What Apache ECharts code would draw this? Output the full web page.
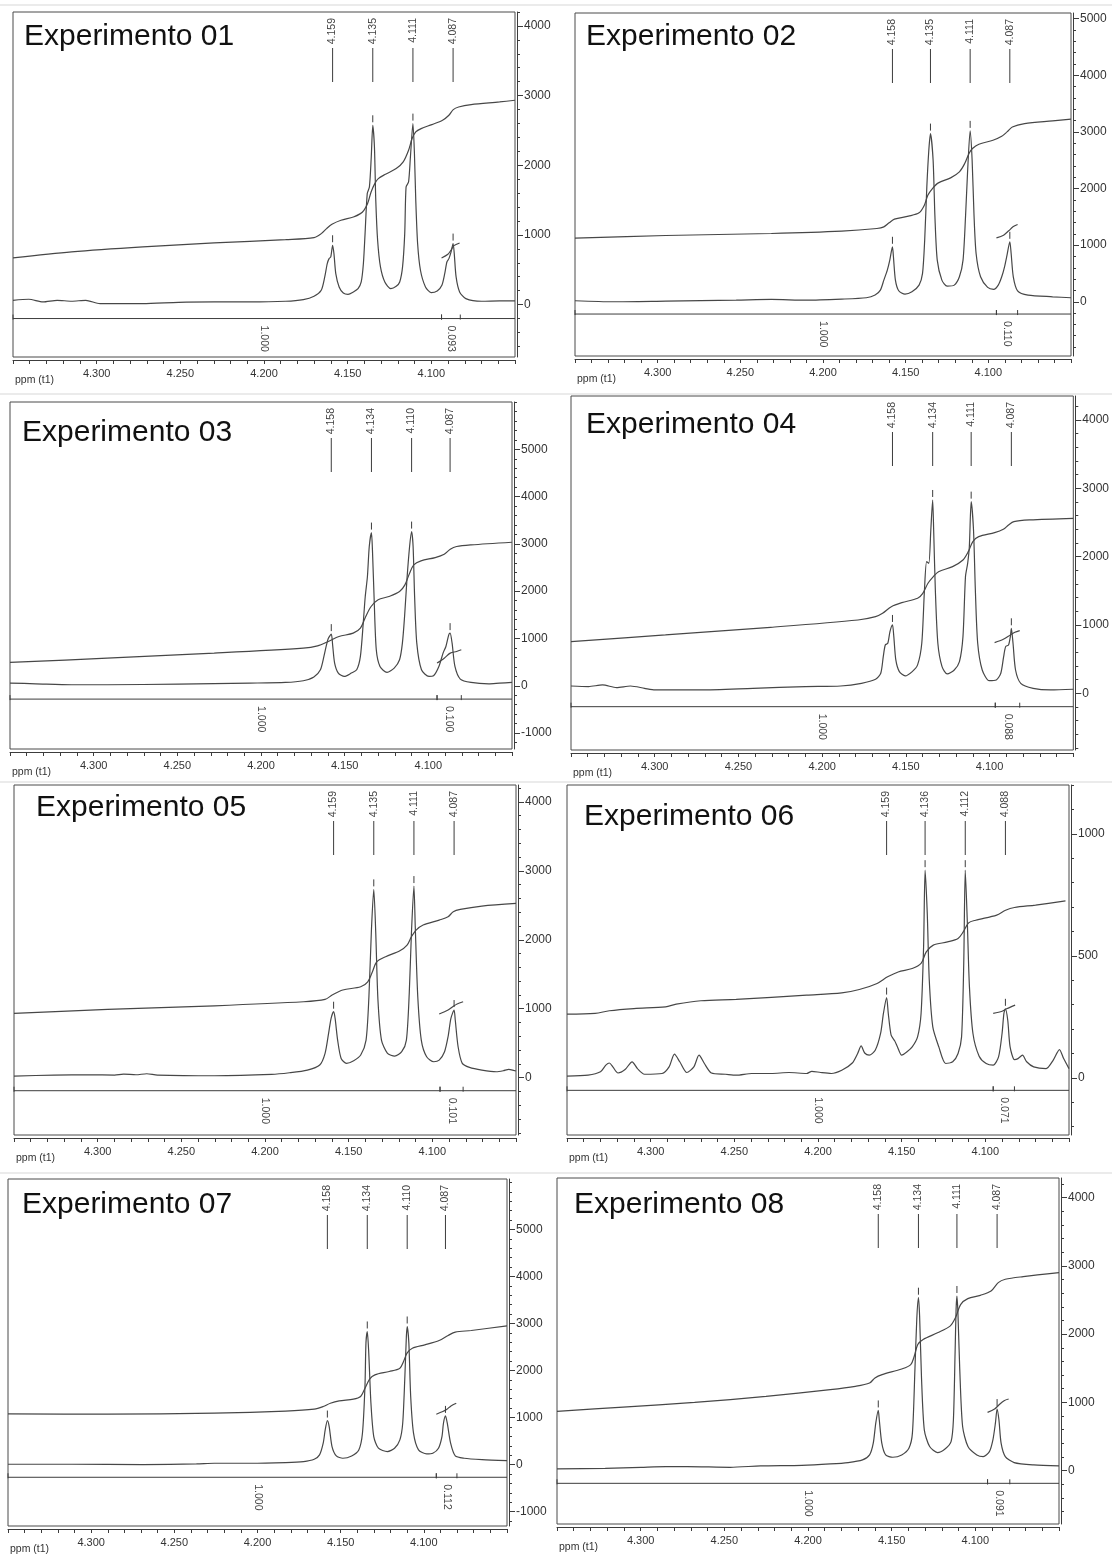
<!DOCTYPE html>
<html>
<head>
<meta charset="utf-8">
<title>Experimentos 01–08</title>
<script src="https://cdn.jsdelivr.net/npm/echarts@6/dist/echarts.min.js"></script>
<style>
  html, body { margin: 0; padding: 0; background: #ffffff; }
  #chart { width: 1112px; height: 1557px; }
</style>
</head>
<body>
<div id="chart"></div>
<script>
// ---------------------------------------------------------------
// Shared axis labels
// ---------------------------------------------------------------
const xTickLabels = [4.30, 4.25, 4.20, 4.15, 4.10];
const integralLabelPpm = 4.200;

// ---------------------------------------------------------------
// Experimento 01
// ---------------------------------------------------------------
const peaks01 = [4.159, 4.135, 4.111, 4.087];
const peakHeights01 = [852, 2574, 2598, 876];
const spectrum01 = [
  [4.35,62],[4.3406,77],[4.3321,38],[4.3236,62],[4.315,48],[4.3065,62],[4.298,14],[4.2724,14],[4.2511,33],[4.2298,38],
  [4.2084,38],[4.1871,48],[4.1765,72],[4.1701,120],[4.1658,206],[4.1637,397],[4.1622,589],[4.1611,660],[4.1601,684],
  [4.159,852],[4.1582,732],[4.1571,445],[4.1551,254],[4.1526,167],[4.1498,148],[4.1466,182],[4.1438,230],[4.1419,325],
  [4.1406,589],[4.1396,1019],[4.1383,1593],[4.137,1689],[4.1359,2120],[4.135,2574],[4.134,2263],[4.1332,1498],[4.1321,924],
  [4.1304,541],[4.1278,325],[4.1242,230],[4.121,263],[4.1189,325],[4.1172,541],[4.1159,1019],[4.1151,1689],[4.1136,1761],
  [4.1125,2120],[4.111,2598],[4.1101,2168],[4.1093,1498],[4.1082,876],[4.1065,493],[4.1035,254],[4.1001,172],[4.0965,196],
  [4.0937,278],[4.092,445],[4.0907,612],[4.0895,660],[4.0882,756],[4.087,876],[4.0863,732],[4.0852,397],[4.0831,182],
  [4.0794,86],[4.0699,48],[4.0592,53],[4.05,53]
];
const integral01 = [
  [4.35,670],[4.315,756],[4.2724,828],[4.2298,885],[4.1871,933],[4.1701,962],[4.1658,1019],[4.1626,1091],[4.1594,1153],
  [4.154,1211],[4.1466,1258],[4.1424,1306],[4.1403,1354],[4.1381,1450],[4.136,1617],[4.1338,1737],[4.1317,1809],[4.1274,1871],
  [4.121,1952],[4.1168,2048],[4.1136,2215],[4.1115,2383],[4.1093,2479],[4.1061,2526],[4.0997,2584],[4.0933,2646],
  [4.0895,2718],[4.0869,2799],[4.0837,2837],[4.0762,2871],[4.0592,2909],[4.05,2933]
];
const integralPart01 = [[4.0939,670],[4.0901,722],[4.088,790],[4.0865,847],[4.0831,885]];
const integralValues01 = ['1.000', '0.093'];
const bracket01 = [4.0939, 4.0827];
const yLabels01 = [0, 1000, 2000, 3000, 4000];

// ---------------------------------------------------------------
// Experimento 02
// ---------------------------------------------------------------
const peaks02 = [4.158, 4.135, 4.111, 4.087];
const peakHeights02 = [971, 2970, 3018, 1059];
const spectrum02 = [
  [4.35,18],[4.327,0],[4.2951,12],[4.2525,29],[4.2313,41],[4.21,29],[4.1887,47],[4.1738,71],[4.1685,118],[4.1653,206],
  [4.1632,382],[4.1611,559],[4.1596,735],[4.158,971],[4.1574,794],[4.1562,382],[4.1542,194],[4.1504,135],[4.1462,176],
  [4.1419,294],[4.1398,500],[4.1385,1088],[4.1372,2029],[4.136,2676],[4.135,2970],[4.1334,2500],[4.1323,1500],[4.1309,735],
  [4.1281,382],[4.1249,276],[4.1206,294],[4.1175,441],[4.1153,735],[4.1138,1500],[4.1126,2265],[4.111,3018],[4.1098,2500],
  [4.1087,1559],[4.1074,853],[4.1047,441],[4.1004,253],[4.0968,218],[4.094,294],[4.0919,441],[4.0902,618],[4.0887,824],
  [4.087,1059],[4.0862,853],[4.0849,441],[4.0823,194],[4.076,118],[4.0611,88],[4.05,71]
];
const integral02 = [
  [4.35,1124],[4.2951,1170],[4.2313,1206],[4.1887,1247],[4.1674,1294],[4.1632,1323],[4.16,1394],[4.1568,1459],[4.1483,1512],
  [4.1419,1570],[4.1387,1706],[4.1366,1882],[4.1338,2000],[4.1302,2100],[4.1228,2188],[4.1175,2294],[4.1143,2441],
  [4.1117,2618],[4.1096,2706],[4.1057,2782],[4.0972,2853],[4.0919,2923],[4.0887,3000],[4.0855,3088],[4.0781,3147],
  [4.0611,3194],[4.05,3224]
];
const integralPart02 = [[4.0951,1129],[4.0908,1176],[4.0877,1253],[4.0851,1323],[4.0823,1365]];
const integralValues02 = ['1.000', '0.110'];
const bracket02 = [4.0951, 4.0823];
const yLabels02 = [0, 1000, 2000, 3000, 4000, 5000];

// ---------------------------------------------------------------
// Experimento 03
// ---------------------------------------------------------------
const peaks03 = [4.158, 4.134, 4.110, 4.087];
const peakHeights03 = [1092, 3239, 3260, 1113];
const spectrum03 = [
  [4.35,56],[4.3346,42],[4.3133,21],[4.292,21],[4.2494,35],[4.2067,56],[4.1854,70],[4.1747,106],[4.1684,183],[4.1645,338],
  [4.1624,620],[4.1609,860],[4.1598,1000],[4.158,1092],[4.1572,866],[4.156,479],[4.1538,268],[4.1502,197],[4.146,268],
  [4.1428,338],[4.1406,620],[4.1389,1324],[4.1377,1887],[4.1364,2310],[4.1353,2944],[4.134,3239],[4.1334,2873],[4.1323,1746],
  [4.1311,761],[4.1289,408],[4.1247,282],[4.1204,373],[4.1172,549],[4.1155,901],[4.1142,1465],[4.1128,2239],[4.1112,2944],
  [4.110,3260],[4.1091,2944],[4.1082,1887],[4.1069,901],[4.1041,338],[4.0996,197],[4.0969,211],[4.0937,408],[4.0912,690],
  [4.0895,831],[4.0878,1077],[4.087,1113],[4.0858,901],[4.0841,408],[4.0809,141],[4.0745,70],[4.0639,42],[4.0575,56],[4.05,70]
];
const integral03 = [
  [4.35,493],[4.292,584],[4.228,690],[4.1747,796],[4.1662,845],[4.1598,937],[4.1534,1042],[4.1449,1113],[4.1406,1218],
  [4.1374,1465],[4.1342,1676],[4.13,1817],[4.1236,1887],[4.1172,1993],[4.114,2134],[4.1112,2380],[4.1087,2556],[4.1044,2641],
  [4.0959,2711],[4.0905,2782],[4.0869,2887],[4.0831,2944],[4.0745,2979],[4.05,3035]
];
const integralPart03 = [[4.0948,479],[4.0905,584],[4.0869,690],[4.0831,725],[4.0803,761]];
const integralValues03 = ['1.000', '0.100'];
const bracket03 = [4.0948, 4.0803];
const yLabels03 = [-1000, 0, 1000, 2000, 3000, 4000, 5000];

// ---------------------------------------------------------------
// Experimento 04
// ---------------------------------------------------------------
const peaks04 = [4.158, 4.134, 4.111, 4.087];
const peakHeights04 = [1000, 2829, 2805, 951];
const spectrum04 = [
  [4.35,107],[4.3395,98],[4.3312,122],[4.3228,83],[4.3145,107],[4.3061,73],[4.2998,49],[4.2726,49],[4.2413,73],[4.21,98],
  [4.189,107],[4.1765,146],[4.1681,205],[4.165,293],[4.1635,537],[4.1623,707],[4.1608,732],[4.1595,902],[4.158,1000],
  [4.1572,829],[4.156,488],[4.1539,317],[4.1504,254],[4.1462,317],[4.143,415],[4.1405,732],[4.1389,1512],[4.1376,1927],
  [4.1363,1902],[4.1351,2390],[4.134,2829],[4.1334,2390],[4.1324,1512],[4.1309,732],[4.1284,390],[4.1253,283],[4.1211,341],
  [4.118,463],[4.1159,829],[4.1144,1707],[4.1131,1902],[4.1121,2146],[4.111,2805],[4.1096,2390],[4.1085,1512],[4.1071,732],
  [4.1044,341],[4.1002,185],[4.096,195],[4.0933,293],[4.0916,537],[4.0904,683],[4.0887,707],[4.0876,829],[4.087,951],
  [4.086,732],[4.0845,341],[4.0814,146],[4.074,73],[4.0636,49],[4.05,59]
];
const integral04 = [
  [4.35,756],[4.2936,854],[4.2308,966],[4.1786,1073],[4.1681,1122],[4.1639,1171],[4.1587,1268],[4.1524,1327],[4.143,1390],
  [4.1399,1463],[4.1368,1610],[4.1336,1707],[4.1305,1780],[4.1221,1854],[4.1159,1951],[4.1127,2073],[4.11,2220],[4.1065,2293],
  [4.097,2351],[4.0918,2400],[4.0887,2463],[4.0855,2512],[4.0761,2537],[4.05,2561]
];
const integralPart04 = [[4.097,741],[4.0918,790],[4.0876,854],[4.0849,893],[4.082,917]];
const integralValues04 = ['1.000', '0.088'];
const bracket04 = [4.0966, 4.082];
const yLabels04 = [0, 1000, 2000, 3000, 4000];

// ---------------------------------------------------------------
// Experimento 05
// ---------------------------------------------------------------
const peaks05 = [4.159, 4.135, 4.111, 4.087];
const peakHeights05 = [957, 2730, 2778, 981];
const spectrum05 = [
  [4.35,24],[4.3261,39],[4.3048,43],[4.2899,39],[4.2845,53],[4.2771,43],[4.2707,58],[4.2643,39],[4.2302,29],[4.1961,48],
  [4.1854,72],[4.1747,111],[4.1673,184],[4.1641,353],[4.162,643],[4.1605,860],[4.159,957],[4.1581,860],[4.1566,546],
  [4.1545,280],[4.1513,208],[4.147,246],[4.1428,329],[4.1396,546],[4.1379,1174],[4.1364,2140],[4.135,2730],[4.1338,2092],
  [4.1325,1126],[4.1304,546],[4.1268,353],[4.1225,314],[4.1183,377],[4.1155,546],[4.1138,1222],[4.1125,2092],[4.111,2778],
  [4.1102,2188],[4.1087,1174],[4.1066,546],[4.1034,304],[4.0991,232],[4.0959,256],[4.0927,377],[4.0906,594],[4.0889,860],
  [4.087,981],[4.0863,836],[4.0846,449],[4.0821,208],[4.0778,150],[4.0704,111],[4.0618,87],[4.0576,101],[4.0543,121],[4.05,97]
];
const integral05 = [
  [4.35,932],[4.2941,990],[4.2302,1043],[4.1769,1101],[4.1641,1135],[4.1599,1198],[4.1535,1271],[4.1428,1319],[4.1386,1391],
  [4.1358,1536],[4.1332,1681],[4.1279,1754],[4.1194,1841],[4.1151,1923],[4.1125,2043],[4.1097,2140],[4.1055,2213],
  [4.0959,2285],[4.0906,2333],[4.0875,2406],[4.0833,2440],[4.0704,2488],[4.05,2527]
];
const integralPart05 = [[4.0959,923],[4.0906,981],[4.0878,1029],[4.0852,1068],[4.0816,1101]];
const integralValues05 = ['1.000', '0.101'];
const bracket05 = [4.0954, 4.0816];
const yLabels05 = [0, 1000, 2000, 3000, 4000];

// ---------------------------------------------------------------
// Experimento 06
// ---------------------------------------------------------------
const peaks06 = [4.159, 4.136, 4.112, 4.088];
const peakHeights06 = [329, 851, 851, 283];
const spectrum06 = [
  [4.35,7],[4.3374,11],[4.33,25],[4.3268,52],[4.3247,61],[4.3226,45],[4.3195,20],[4.3153,34],[4.3111,66],[4.3079,38],
  [4.3037,15],[4.2932,18],[4.289,45],[4.2858,97],[4.2826,66],[4.2784,22],[4.2742,45],[4.2711,93],[4.2679,59],[4.2637,20],
  [4.2553,15],[4.2489,11],[4.2395,18],[4.2279,18],[4.2174,22],[4.2068,18],[4.2037,27],[4.1984,22],[4.1921,18],[4.1858,31],
  [4.1795,61],[4.1763,100],[4.1742,131],[4.1721,102],[4.1694,93],[4.1658,113],[4.1626,182],[4.1609,264],[4.159,329],
  [4.158,264],[4.1563,175],[4.1542,152],[4.1525,127],[4.15,93],[4.1468,107],[4.1437,127],[4.1405,168],[4.1384,264],
  [4.1369,537],[4.136,851],[4.1347,673],[4.1335,400],[4.1314,209],[4.1278,127],[4.1237,59],[4.1195,66],[4.1163,100],
  [4.1142,168],[4.1129,469],[4.112,851],[4.1108,646],[4.1095,373],[4.1074,182],[4.1037,89],[4.0995,59],[4.0953,52],
  [4.0921,86],[4.09,182],[4.0889,264],[4.088,283],[4.0866,236],[4.0852,127],[4.0826,75],[4.0805,79],[4.0778,93],[4.0753,66],
  [4.0711,45],[4.0637,38],[4.0595,72],[4.0557,116],[4.0532,79],[4.05,38]
];
const integral06 = [
  [4.35,261],[4.3332,264],[4.3247,275],[4.31,284],[4.2911,291],[4.2847,302],[4.27,316],[4.2489,322],[4.2068,339],
  [4.1858,348],[4.1753,362],[4.1647,387],[4.1584,414],[4.1521,434],[4.1437,448],[4.1384,469],[4.1353,516],[4.1311,544],
  [4.1226,557],[4.1163,571],[4.1132,598],[4.11,635],[4.1058,646],[4.0932,667],[4.0879,687],[4.0826,698],[4.07,708],[4.0521,725]
];
const integralPart06 = [[4.0953,264],[4.09,273],[4.0873,283],[4.0847,291],[4.0822,298]];
const integralValues06 = ['1.000', '0.071'];
const bracket06 = [4.0953, 4.0826];
const yLabels06 = [0, 500, 1000];

// ---------------------------------------------------------------
// Experimento 07
// ---------------------------------------------------------------
const peaks07 = [4.158, 4.134, 4.110, 4.087];
const peakHeights07 = [936, 2830, 2936, 1035];
const spectrum07 = [
  [4.35,7],[4.3118,7],[4.2689,0],[4.2367,14],[4.226,28],[4.2045,28],[4.1831,43],[4.1723,64],[4.1659,113],[4.1627,206],
  [4.1605,454],[4.1593,738],[4.158,936],[4.1569,809],[4.1552,383],[4.1526,184],[4.1487,135],[4.1434,184],[4.1391,312],
  [4.1369,667],[4.1354,1660],[4.1348,2582],[4.134,2830],[4.1332,2440],[4.1318,1305],[4.1301,596],[4.1273,348],[4.1219,277],
  [4.1176,348],[4.1144,525],[4.1127,879],[4.1114,1872],[4.1105,2723],[4.110,2936],[4.109,2582],[4.1079,1447],[4.1062,667],
  [4.1032,312],[4.0983,227],[4.0946,241],[4.0912,348],[4.0891,596],[4.0882,879],[4.087,1035],[4.0859,879],[4.0839,454],
  [4.0811,184],[4.0758,135],[4.065,106],[4.05,85]
];
const integral07 = [
  [4.35,1078],[4.2903,1071],[4.226,1092],[4.1831,1135],[4.1659,1177],[4.1605,1234],[4.1562,1305],[4.1509,1355],[4.1423,1390],
  [4.138,1447],[4.1358,1589],[4.1326,1816],[4.1294,1908],[4.1208,1979],[4.1144,2050],[4.1122,2191],[4.1101,2369],
  [4.1069,2475],[4.0994,2546],[4.0908,2638],[4.0854,2745],[4.0811,2816],[4.0715,2851],[4.05,2950]
];
const integralPart07 = [[4.0925,1071],[4.0886,1128],[4.0861,1177],[4.0837,1248],[4.0805,1305]];
const integralValues07 = ['1.000', '0.112'];
const bracket07 = [4.0925, 4.0801];
const yLabels07 = [-1000, 0, 1000, 2000, 3000, 4000, 5000];

// ---------------------------------------------------------------
// Experimento 08
// ---------------------------------------------------------------
const peaks08 = [4.158, 4.134, 4.111, 4.087];
const peakHeights08 = [882, 2534, 2559, 902];
const spectrum08 = [
  [4.35,25],[4.3212,34],[4.2998,49],[4.2849,59],[4.2721,59],[4.2464,49],[4.2283,69],[4.2037,78],[4.1867,98],[4.176,118],
  [4.1674,157],[4.1632,230],[4.161,402],[4.1595,696],[4.158,882],[4.1574,745],[4.1559,402],[4.1536,230],[4.1493,196],
  [4.144,230],[4.1397,328],[4.1376,549],[4.1361,1480],[4.135,2216],[4.134,2534],[4.1333,2265],[4.1322,1382],[4.1305,598],
  [4.1273,353],[4.1226,265],[4.1183,314],[4.1145,426],[4.1131,745],[4.1121,1726],[4.1115,2363],[4.111,2559],[4.1104,2314],
  [4.1093,1480],[4.1076,647],[4.1044,353],[4.0991,230],[4.0953,206],[4.0916,279],[4.0895,451],[4.088,696],[4.087,902],
  [4.0859,745],[4.0846,402],[4.0821,206],[4.0768,118],[4.0651,83],[4.05,69]
];
const integral08 = [
  [4.35,868],[4.3105,931],[4.2678,1000],[4.2251,1088],[4.1867,1186],[4.1717,1235],[4.1632,1284],[4.16,1358],[4.1557,1407],
  [4.144,1490],[4.1386,1554],[4.1365,1676],[4.1344,1848],[4.1312,1922],[4.1226,2020],[4.1151,2118],[4.1119,2240],
  [4.1087,2436],[4.1045,2520],[4.097,2569],[4.0906,2632],[4.0863,2755],[4.0821,2804],[4.0714,2843],[4.05,2902]
];
const integralPart08 = [[4.0927,853],[4.0885,902],[4.0858,966],[4.0828,1025],[4.0801,1049]];
const integralValues08 = ['1.000', '0.091'];
const bracket08 = [4.0927, 4.0794];
const yLabels08 = [0, 1000, 2000, 3000, 4000];

// ---------------------------------------------------------------
// Panel assembly
// ---------------------------------------------------------------
const panels = [
  { title: 'Experimento 01', spectrum: spectrum01, integral: integral01, part: integralPart01, peaks: peaks01, heights: peakHeights01, values: integralValues01, bracket: bracket01, yLabels: yLabels01, minorStep: 200 },
  { title: 'Experimento 02', spectrum: spectrum02, integral: integral02, part: integralPart02, peaks: peaks02, heights: peakHeights02, values: integralValues02, bracket: bracket02, yLabels: yLabels02, minorStep: 200 },
  { title: 'Experimento 03', spectrum: spectrum03, integral: integral03, part: integralPart03, peaks: peaks03, heights: peakHeights03, values: integralValues03, bracket: bracket03, yLabels: yLabels03, minorStep: 200 },
  { title: 'Experimento 04', spectrum: spectrum04, integral: integral04, part: integralPart04, peaks: peaks04, heights: peakHeights04, values: integralValues04, bracket: bracket04, yLabels: yLabels04, minorStep: 200 },
  { title: 'Experimento 05', spectrum: spectrum05, integral: integral05, part: integralPart05, peaks: peaks05, heights: peakHeights05, values: integralValues05, bracket: bracket05, yLabels: yLabels05, minorStep: 200 },
  { title: 'Experimento 06', spectrum: spectrum06, integral: integral06, part: integralPart06, peaks: peaks06, heights: peakHeights06, values: integralValues06, bracket: bracket06, yLabels: yLabels06, minorStep: 100 },
  { title: 'Experimento 07', spectrum: spectrum07, integral: integral07, part: integralPart07, peaks: peaks07, heights: peakHeights07, values: integralValues07, bracket: bracket07, yLabels: yLabels07, minorStep: 200 },
  { title: 'Experimento 08', spectrum: spectrum08, integral: integral08, part: integralPart08, peaks: peaks08, heights: peakHeights08, values: integralValues08, bracket: bracket08, yLabels: yLabels08, minorStep: 200 }
];

// Frame of every plot box (pixels), its intensity range and the integral baseline level
const layout = [
  { left: 13,  top: 12,   width: 502, height: 345, yMin: -752,  yMax: 4200, sep: -200, titleX: 24,  titleY: 37 },
  { left: 575, top: 13,   width: 496, height: 343, yMin: -958,  yMax: 5100, sep: -217, titleX: 586, titleY: 37 },
  { left: 10,  top: 402,  width: 502, height: 347, yMin: -1337, yMax: 6000, sep: -282, titleX: 22,  titleY: 433 },
  { left: 571, top: 396,  width: 505, height: 354, yMin: -830,  yMax: 4351, sep: -196, titleX: 586, titleY: 425 },
  { left: 14,  top: 785,  width: 502, height: 350, yMin: -830,  yMax: 4243, sep: -188, titleX: 36,  titleY: 808 },
  { left: 567, top: 785,  width: 502, height: 350, yMin: -234,  yMax: 1200, sep: -51,  titleX: 584, titleY: 817 },
  { left: 8,   top: 1179, width: 499, height: 347, yMin: -1306, yMax: 6072, sep: -270, titleX: 22,  titleY: 1205 },
  { left: 557, top: 1178, width: 502, height: 346, yMin: -782,  yMax: 4288, sep: -186, titleX: 574, titleY: 1205 }
];

// Faint page rules between the rows of panels
const rowRules = [5, 394, 782, 1173];

const FONT = '"Liberation Sans", Arial, Helvetica, sans-serif';
const INK = '#3c3c3c';
const TRACE = '#474747';

// ppm ticks every 0.01 across the window
const xTicks = [];
for (let k = 405; k <= 435; k++) xTicks.push(k / 100);

// Peak picking: rotated shift label, leader line and a short dash above the apex
function peakRenderer() {
  return function (params, api) {
    const cs = params.coordSys;
    const ppm = api.value(0);
    const apex = api.coord([ppm, api.value(1)]);
    const x = apex[0];
    return {
      type: 'group',
      children: [
        { type: 'text', x: x, y: cs.y + 6, rotation: Math.PI / 2,
          style: { text: ppm.toFixed(3), fill: '#444', fontSize: 10.5, fontFamily: FONT, align: 'right', verticalAlign: 'middle' } },
        { type: 'line', shape: { x1: x, y1: cs.y + 36, x2: x, y2: cs.y + 70 }, style: { stroke: INK, lineWidth: 1 } },
        { type: 'line', shape: { x1: x, y1: apex[1] - 10, x2: x, y2: apex[1] - 3 }, style: { stroke: INK, lineWidth: 1 } }
      ]
    };
  };
}

// Integration strip: baseline, region end marks and rotated integral values
function integrationRenderer(values, sep) {
  return function (params, api) {
    const cs = params.coordSys;
    const a = api.coord([api.value(0), sep]);
    const b = api.coord([api.value(1), sep]);
    const l = api.coord([api.value(2), sep]);
    const y = a[1];
    const children = [
      { type: 'line', shape: { x1: a[0], y1: y - 4, x2: a[0], y2: y + 1 }, style: { stroke: INK, lineWidth: 1 } },
      { type: 'line', shape: { x1: b[0], y1: y - 4, x2: b[0], y2: y + 1 }, style: { stroke: INK, lineWidth: 1 } },
      { type: 'text', x: l[0], y: y + 7, rotation: -Math.PI / 2,
        style: { text: values[params.dataIndex], fill: '#444', fontSize: 10.5, fontFamily: FONT, align: 'left', verticalAlign: 'middle' } }
    ];
    if (params.dataIndex === 0) {
      children.push({ type: 'line', shape: { x1: cs.x, y1: y, x2: cs.x + cs.width, y2: y }, style: { stroke: INK, lineWidth: 1 } });
    }
    return { type: 'group', children: children };
  };
}

const grid = [], xAxis = [], yAxis = [], series = [], graphic = [];

rowRules.forEach(function (y) {
  graphic.push({ type: 'line', silent: true, z: -1,
                 shape: { x1: 0, y1: y, x2: 1112, y2: y }, style: { stroke: '#ebebeb', lineWidth: 2 } });
});

panels.forEach(function (p, i) {
  const L = layout[i];
  grid.push({ left: L.left, top: L.top, width: L.width, height: L.height, show: true,
              borderColor: '#4a4a4a', borderWidth: 1, backgroundColor: '#ffffff' });

  xAxis.push({
    gridIndex: i, type: 'value', min: 4.05, max: 4.35, inverse: true, position: 'bottom', offset: 3,
    axisLine: { show: true, onZero: false, lineStyle: { color: INK, width: 1 } },
    axisTick: { show: true, customValues: xTicks, length: 4, lineStyle: { color: INK } },
    axisLabel: { show: true, customValues: xTickLabels, formatter: function (v) { return v.toFixed(3); },
                 fontSize: 11, fontFamily: FONT, color: '#333', margin: 8 },
    splitLine: { show: false }
  });

  const minor = [];
  for (let v = Math.ceil(L.yMin / p.minorStep) * p.minorStep; v <= L.yMax; v += p.minorStep) minor.push(v);

  yAxis.push({
    gridIndex: i, type: 'value', position: 'right', offset: 2, min: L.yMin, max: L.yMax,
    axisLine: { show: true, onZero: false, lineStyle: { color: INK } },
    axisTick: { show: true, customValues: p.yLabels, length: 6, lineStyle: { color: INK } },
    axisLabel: { show: true, customValues: p.yLabels, formatter: function (v) { return String(v); },
                 fontSize: 12, fontFamily: FONT, color: '#333', margin: 7 },
    splitLine: { show: false }
  });
  yAxis.push({
    gridIndex: i, type: 'value', position: 'right', offset: 2, min: L.yMin, max: L.yMax,
    axisLine: { show: false },
    axisTick: { show: true, customValues: minor, length: 3, lineStyle: { color: INK } },
    axisLabel: { show: false },
    splitLine: { show: false }
  });

  const common = { xAxisIndex: i, yAxisIndex: 2 * i, symbol: 'none', silent: true, animation: false,
                   lineStyle: { color: TRACE, width: 1.2 }, z: 3 };
  series.push(Object.assign({ type: 'line', name: p.title + ' espectro', data: p.spectrum, smooth: 0.25 }, common));
  series.push(Object.assign({ type: 'line', name: p.title + ' integral', data: p.integral, smooth: 0.3 }, common));
  series.push(Object.assign({ type: 'line', name: p.title + ' integral 4.087', data: p.part, smooth: 0.3 }, common));

  series.push({
    type: 'custom', xAxisIndex: i, yAxisIndex: 2 * i, silent: true, animation: false, clip: false, z: 4,
    data: p.peaks.map(function (x, k) { return [x, p.heights[k]]; }),
    renderItem: peakRenderer()
  });
  series.push({
    type: 'custom', xAxisIndex: i, yAxisIndex: 2 * i, silent: true, animation: false, clip: false, z: 4,
    data: [[4.35, p.bracket[0], integralLabelPpm],
           [p.bracket[0], p.bracket[1], (p.bracket[0] + p.bracket[1]) / 2]],
    renderItem: integrationRenderer(p.values, L.sep)
  });

  graphic.push({ type: 'text', x: L.titleX, y: L.titleY, silent: true,
                 style: { text: p.title, fill: '#111', fontSize: 30, fontFamily: FONT, verticalAlign: 'middle' } });
  graphic.push({ type: 'text', x: L.left + 2, y: L.top + L.height + 23, silent: true,
                 style: { text: 'ppm (t1)', fill: '#333', fontSize: 10.5, fontFamily: FONT, verticalAlign: 'middle' } });
});

const chart = echarts.init(document.getElementById('chart'), null, { renderer: 'canvas' });
chart.setOption({
  backgroundColor: '#ffffff',
  animation: false,
  grid: grid,
  xAxis: xAxis,
  yAxis: yAxis,
  series: series,
  graphic: graphic
});
</script>
</body>
</html>
